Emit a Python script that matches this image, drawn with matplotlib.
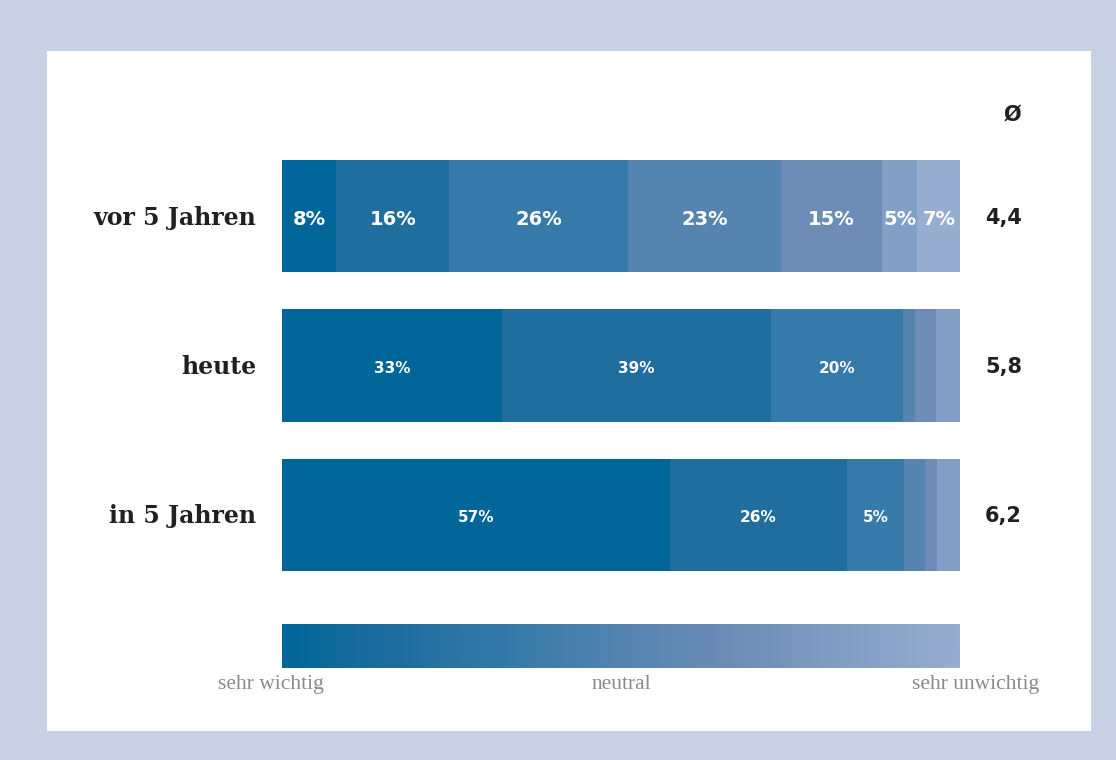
import matplotlib.pyplot as plt
from matplotlib.colors import LinearSegmentedColormap
from matplotlib.patches import Rectangle
import numpy as np

# rows of the chart (top to bottom)
rows = ['vor 5 Jahren', 'heute', 'in 5 Jahren']
# segment widths in percent, sehr wichtig -> sehr unwichtig
vals_vor = [8.0, 16.7, 26.3, 22.6, 14.9, 5.2, 6.5]
vals_heute = [32.4, 39.7, 19.5, 1.8, 3.1, 3.5, 0]
vals_in5 = [57.2, 26.1, 8.4, 3.1, 1.8, 3.4, 0]
# labels printed inside the segments
labels_vor = ['8%', '16%', '26%', '23%', '15%', '5%', '7%']
labels_heute = ['33%', '39%', '20%', '', '', '', '']
labels_in5 = ['57%', '26%', '5%', '', '', '', '']
averages = ['4,4', '5,8', '6,2']
scale_labels = ['sehr wichtig', 'neutral', 'sehr unwichtig']

colors = ['#006699', '#1f6e9e', '#357aa8', '#5584b0', '#6d8db7', '#829fc5', '#97adcf']

W, H = 1116, 760
fig = plt.figure(figsize=(W / 100, H / 100), dpi=100)
fig.patch.set_facecolor('#c8d1e3')
fig.patches.append(Rectangle((47 / W, 29 / H), (1091 - 47) / W, (709 - 29) / H,
                             transform=fig.transFigure, facecolor='white',
                             edgecolor='none', zorder=-10))

# main bar axes
left, right = 282 / W, 960 / W
top, bottom = 160, 571
ax = fig.add_axes([left, 1 - bottom / H, right - left, (bottom - top) / H])
ax.set_xlim(0, 100)
ax.set_ylim(2.375, -0.375)
ax.axis('off')

all_vals = [vals_vor, vals_heute, vals_in5]
all_labels = [labels_vor, labels_heute, labels_in5]
for i, (vals, labs) in enumerate(zip(all_vals, all_labels)):
    start = 0
    for v, lab, c in zip(vals, labs, colors):
        if v > 0:
            ax.barh(i, v, left=start, height=0.75, color=c, edgecolor='none')
        if lab:
            ax.text(start + v / 2, i + 0.02, lab, ha='center', va='center',
                    color='white', fontweight='bold', family='DejaVu Sans',
                    fontsize=14 if i == 0 else 11)
        start += v
    ax.text(-3.8, i + 0.01, rows[i], ha='right', va='center', fontsize=17,
            fontweight='heavy', family='DejaVu Serif', color='#231f20',
            clip_on=False)
    ax.text(106.4, i + 0.01, averages[i], ha='center', va='center', fontsize=15,
            fontweight='heavy', family='DejaVu Sans', color='#231f20',
            clip_on=False)

ax.text(107.7, -0.68, '\u00d8', ha='center', va='center', fontsize=15,
        fontweight='heavy', family='DejaVu Sans', color='#231f20', clip_on=False)

# gradient scale bar
gax = fig.add_axes([left, 1 - 668 / H, right - left, (668 - 624) / H])
cmap = LinearSegmentedColormap.from_list('scale', colors)
gax.imshow(np.linspace(0, 1, 512)[None, :], aspect='auto', cmap=cmap,
           extent=(0, 100, 0, 1))
gax.set_xlim(0, 100)
gax.axis('off')
for x, lab in zip([-1.7, 50, 102.3], scale_labels):
    gax.text(x, -0.38, lab, ha='center', va='center', fontsize=15.5,
             family='Liberation Serif', color='#8a8a8a', clip_on=False)

fig.savefig('out.png', dpi=100, facecolor=fig.get_facecolor())
